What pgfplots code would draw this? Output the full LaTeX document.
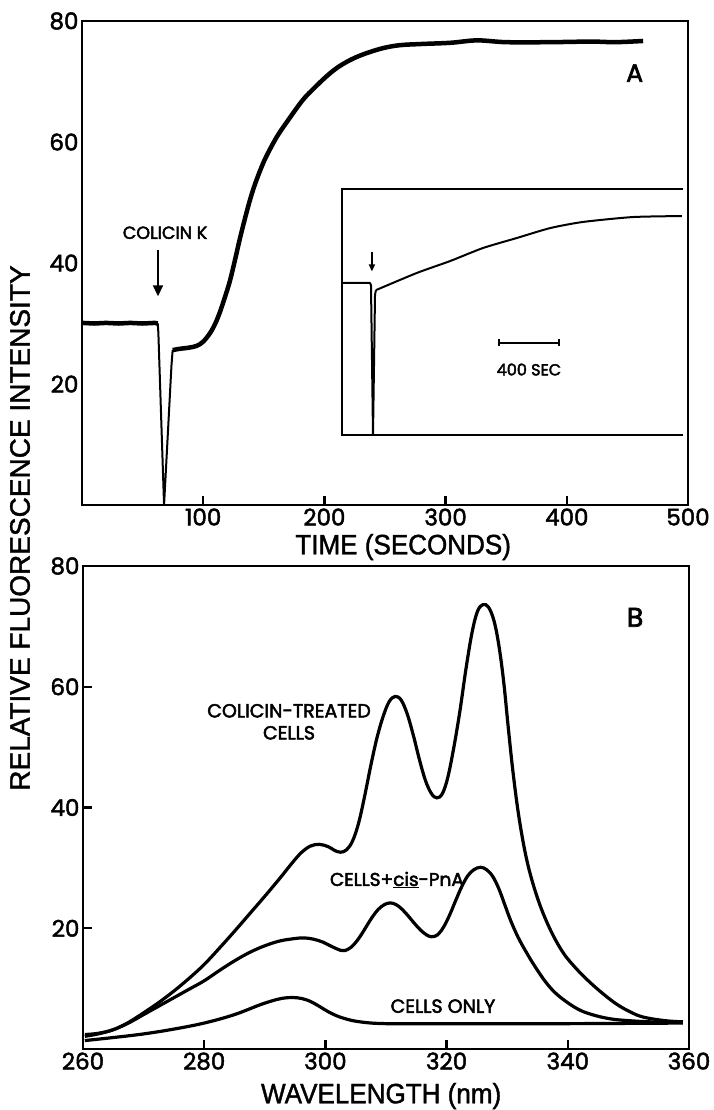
\documentclass[border=0pt]{standalone}
\usepackage{pgfplots}
\pgfplotsset{compat=1.18}
\usetikzlibrary{arrows.meta}
\usepackage{fontspec}
\setmainfont{Poppins}[FakeBold=2]
\newfontfamily\letfont{Poppins}[FakeBold=2.6]
\newfontfamily\condfont{Liberation Sans}[FakeStretch=0.93, FakeBold=1.4]
\newfontfamily\condfonty{Liberation Sans}[FakeStretch=1.0, FakeBold=1.4]

\pgfplotsset{
  panel/.style={
    scale only axis, width=606pt,
    axis line style={line width=2.6pt},
    tick align=inside, major tick length=9pt,
    tick style={line width=2.4pt, black},
    /pgf/number format/assume math mode=true,
    tick label style={font=\fontsize{23pt}{27pt}\selectfont},
    label style={font=\condfont\fontsize{28pt}{30pt}\selectfont},
    xtick pos=bottom, ytick pos=left,
    clip=false,
  },
}

\begin{document}
\begin{tikzpicture}[x=1pt,y=1pt]
\useasboundingbox (0,0) rectangle (713,-1110);

% ---------------- Panel A ----------------
\begin{axis}[panel, at={(82pt,-505pt)}, anchor=south west, height=484pt,
  xmin=0, xmax=500, ymin=0, ymax=80,
  xtick={100,200,300,400,500}, ytick={20,40,60,80},
  ytick style={draw=none},
  xlabel={TIME (SECONDS)},
  xlabel style={at={(axis description cs:0.530,-0.0868)}, anchor=center},
  ylabel={RELATIVE FLUORESCENCE INTENSITY},
  ylabel style={at={(axis description cs:-0.1023,-0.0475)}, anchor=center,
    font=\condfonty\fontsize{28pt}{30pt}\selectfont},
]
% baseline and dip
\addplot[line width=4.5pt, line join=round] coordinates {
(0,30.1) (10,30.0) (20,30.1) (30,30.0) (40,30.1) (50,30.0) (60,30.1) (62.5,30.0)
};
\addplot[line width=2pt, line join=round] coordinates {
(62.5,30.0) (63,28.5) (67.7,0) (73.8,23) (74.8,25.6)
};
% recovery and rise
\addplot[line width=4.5pt, smooth, tension=0.55, line join=round] coordinates {
(74.8,25.6) (80,25.8) (88,26.0) (94.6,26.3) (100,27.0) (105.6,28.4) (110,30.0)
(114,32.0) (118,34.4) (122,37.0) (126,40.3) (130,43.8) (134,47.0) (138,50.0)
(142,52.6) (147,55.3) (152,57.6) (160.6,60.8) (169,63.3) (182,66.9) (192,69.0)
(202,70.9) (210,72.2) (218,73.2) (226,74.0) (235,74.7) (248,75.5) (262,76.0)
(280,76.2) (304,76.4) (326,76.8) (350,76.5) (386,76.5) (420,76.6) (440,76.5) (463,76.7)
};
\draw[line width=2pt, -{Triangle[length=11pt,width=10pt]}] (axis cs:62.7,42.1) -- (axis cs:62.7,34.5);
\node[font=\letfont\fontsize{17.5pt}{19pt}\selectfont] at (axis cs:68.5,45.0) {COLICIN K};
\node[font=\letfont\fontsize{25pt}{26pt}\selectfont] at (axis cs:456,71.4) {A};
\end{axis}

% ---------------- Inset ----------------
\begin{axis}[at={(342pt,-435pt)}, anchor=south west, scale only axis,
  width=341pt, height=246pt, xmin=0, xmax=2200, ymin=0, ymax=100,
  hide axis, clip=false]
\draw[line width=1.8pt] (axis cs:2200,100) -- (axis cs:0,100) -- (axis cs:0,0) -- (axis cs:2200,0);
\addplot[line width=2pt, line join=round] coordinates {
(0,61.8) (100,61.8) (180,61.8) (187,61.0) (200,0) (213,57.0) (219,58.9)
};
\addplot[line width=2pt, smooth, tension=0.4] coordinates {
(219,58.9) (484,65.9) (697,70.7) (909,76.0) (1129,80.1) (1342,84.1) (1554,86.6)
(1877,88.6) (2193,89.0)
};
\draw[line width=1.6pt, -{Triangle[length=7pt,width=6pt]}] (axis cs:193,74.5) -- (axis cs:193,66.5);
\draw[line width=1.6pt, {Bar[width=7pt]}-{Bar[width=7pt]}] (axis cs:1006,37.4) -- (axis cs:1406,37.4);
\node[font=\letfont\fontsize{16pt}{18pt}\selectfont] at (axis cs:1206,26.6) {400 SEC};
\end{axis}

% ---------------- Panel B ----------------
\begin{axis}[panel, at={(83pt,-1049pt)}, anchor=south west, height=483pt,
  xmin=260, xmax=360, ymin=0, ymax=80,
  xtick={260,280,300,320,340,360}, ytick={20,40,60,80},
  xlabel={WAVELENGTH (nm)},
  xlabel style={at={(axis description cs:0.492,-0.0973)}, anchor=center},
]
% colicin-treated cells
\addplot[line width=3.2pt, smooth, tension=0.6] coordinates {
(260.3,2.4) (262.5,2.6) (265,3.2) (267.5,4.4) (270,6.0) (272.5,7.7) (275,9.6)
(277.5,11.7) (280,14.0) (282.5,16.7) (285,19.5) (287.5,22.4) (290,25.3)
(292.5,28.3) (294.5,30.8) (296,32.5) (297.5,33.6) (299,33.9) (300.5,33.5)
(301.5,32.9) (302.5,32.6) (303.5,33.0) (304.5,34.5) (305.5,37.5) (306.5,42)
(307.5,47) (308.5,51.5) (309.5,55) (310.5,57.5) (311.5,58.4) (312.5,57.8)
(313.5,55.5) (314.5,52) (315.5,48) (316.5,44.5) (317.5,42.3) (318.4,41.6)
(319.3,42.3) (320.2,45) (321.2,50) (322.2,56) (323.2,63) (324.2,69) (325.1,72.5)
(326,73.6) (326.9,73.2) (327.8,71) (328.6,67) (329.4,61) (330.2,53) (331,45.5)
(332,38) (333.3,31) (335,25) (337,20) (339.2,16) (341.5,13.2) (343.7,11.0)
(346,9.0) (348.1,7.4) (350.2,6.2) (352.4,5.3) (356,4.7) (359,4.5)
};
% cells + cis-PnA
\addplot[line width=3.2pt, smooth, tension=0.6] coordinates {
(260.3,2.1) (262.5,2.5) (265,3.2) (267.5,4.3) (270,5.7) (272.5,7.1) (275,8.5)
(277.5,9.9) (280,11.3) (282.5,13.0) (285,14.6) (287.5,16.0) (290,17.1)
(292.5,17.9) (295,18.3) (296.5,18.4) (298,18.2) (299.6,17.7) (301,17.0)
(302.7,16.3) (303.7,16.5) (304.7,17.3) (305.7,18.6) (306.7,20.2) (307.7,21.8)
(308.7,23.1) (309.7,23.9) (310.7,24.2) (311.7,23.9) (312.7,23.1) (313.7,22.0)
(314.7,20.8) (315.7,19.7) (316.7,18.9) (317.5,18.6) (318.5,18.9) (319.5,20.2)
(320.5,22.2) (321.5,24.6) (322.5,26.9) (323.5,28.7) (324.5,29.7) (325.6,30.1)
(326.6,29.7) (327.6,28.6) (328.6,26.6) (329.6,23.9) (330.6,21.2) (331.8,18.5)
(333,16.3) (334.5,13.8) (336.5,10.9) (338.5,8.8) (341.5,6.7) (344,5.7)
(347,5.0) (350,4.7) (353.6,4.5) (359,4.4)
};
% cells only
\addplot[line width=3.2pt, smooth, tension=0.6] coordinates {
(260.3,1.4) (265,1.9) (270,2.5) (275,3.3) (280,4.3) (285,5.7) (290,7.6)
(293.7,8.5) (297,8.1) (300.8,6.0) (303,5.1) (305.7,4.5) (310,4.2) (320,4.2)
(340,4.2) (359,4.3)
};
\node[font=\letfont\fontsize{19pt}{22pt}\selectfont, align=center] at (axis cs:294,54.2) {COLICIN-TREATED\\CELLS};
\node[font=\letfont\fontsize{18.5pt}{20pt}\selectfont] at (axis cs:311.8,28.0) {CELLS+\underline{cis}-PnA};
\node[font=\letfont\fontsize{19pt}{20pt}\selectfont] at (axis cs:319.4,7.1) {CELLS ONLY};
\node[font=\letfont\fontsize{27pt}{28pt}\selectfont] at (axis cs:351.1,71.5) {B};
\end{axis}
\end{tikzpicture}
\end{document}
